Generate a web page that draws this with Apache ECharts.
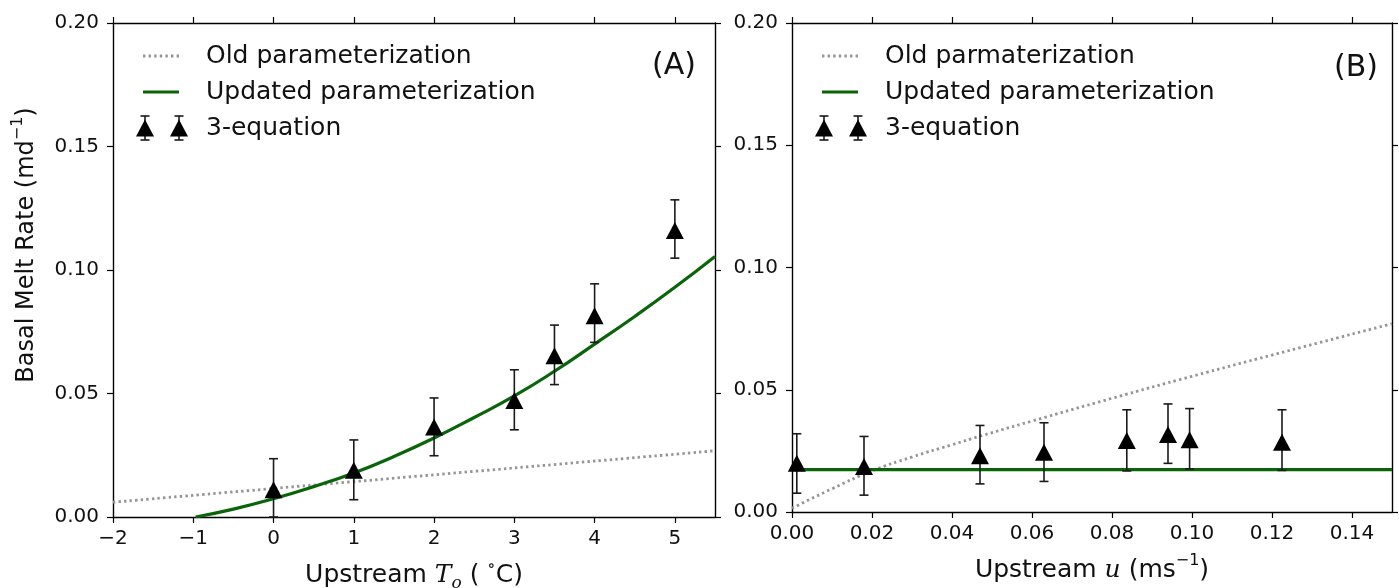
<!DOCTYPE html>
<html>
<head>
<meta charset="utf-8">
<script src="https://cdn.jsdelivr.net/npm/echarts@6/dist/echarts.min.js"></script>
<style>
  html, body { margin: 0; padding: 0; background: #fff; }
  #chart { width: 1399px; height: 588px; }
</style>
</head>
<body>
<div id="chart"></div>
<script>
// tick labels
const tempTicks = [-2, -1, 0, 1, 2, 3, 4, 5];
const speedTicks = [0, 0.02, 0.04, 0.06, 0.08, 0.1, 0.12, 0.14];
const rateTicks = [0, 0.05, 0.1, 0.15, 0.2];

// panel A: melt rate vs upstream temperature
const tempOldX = [-2, 5.5];
const tempOldY = [0.006, 0.0268];
const tempNewX = [-0.97, -0.5, 0, 0.5, 1, 1.5, 2, 2.5, 3, 3.5, 4, 4.5, 5, 5.5];
const tempNewY = [0, 0.0032, 0.0074, 0.0123, 0.0178, 0.0245, 0.032, 0.0403, 0.049, 0.059, 0.07, 0.0812, 0.093, 0.1055];
const tempObsX = [0, 1, 2, 3, 3.5, 4, 5];
const tempObsY = [0.011, 0.0189, 0.0364, 0.0472, 0.0653, 0.0815, 0.116];
const tempObsLo = [0, 0.007, 0.0248, 0.0353, 0.0536, 0.0707, 0.1048];
const tempObsHi = [0.0236, 0.0312, 0.0482, 0.0596, 0.0777, 0.0944, 0.1284];

// panel B: melt rate vs upstream velocity
const speedOldX = [0, 0.01, 0.02, 0.03, 0.04, 0.047, 0.06, 0.08, 0.1, 0.12, 0.15];
const speedOldY = [0.0015, 0.0095, 0.0168, 0.0225, 0.0275, 0.031, 0.0372, 0.0465, 0.0555, 0.0642, 0.077];
const speedNewX = [0, 0.15];
const speedNewY = [0.0173, 0.0173];
const speedObsX = [0.0012, 0.018, 0.047, 0.063, 0.0837, 0.094, 0.0994, 0.1225];
const speedObsY = [0.0199, 0.0186, 0.023, 0.0244, 0.0292, 0.0317, 0.0295, 0.0285];
const speedObsLo = [0.0077, 0.0069, 0.0115, 0.0125, 0.0168, 0.0199, 0.0176, 0.017];
const speedObsHi = [0.032, 0.0309, 0.0354, 0.0365, 0.0418, 0.0442, 0.0423, 0.0418];

const FONT = '"DejaVu Sans", "Liberation Sans", sans-serif';
const SERIF = '"DejaVu Serif", serif';
const INK = '#111';
const GREEN = '#0a640a';
const DOTS = '#959595';
const DOT_DASH = [2.4, 3.2];

const zip = (a, b) => a.map((v, i) => [v, b[i]]);
const zip3 = (a, b, c) => a.map((v, i) => [v, b[i], c[i]]);
const minus = v => String(v).replace('-', '\u2212');

// shared rich styles for math bits in the titles
const mathRich = {
  it: { fontFamily: SERIF, fontStyle: 'italic', fontSize: 25, lineHeight: 34, color: INK },
  sub: { fontFamily: SERIF, fontStyle: 'italic', fontSize: 17, lineHeight: 18, verticalAlign: 'bottom', color: INK },
  sup: { fontFamily: SERIF, fontSize: 17, lineHeight: 18, verticalAlign: 'top', color: INK },
  sups: { fontFamily: FONT, fontSize: 16, lineHeight: 20, verticalAlign: 'top', color: INK }
};

function renderErrorBar(params, api) {
  const x = api.value(0);
  const lo = api.coord([x, api.value(1)]);
  const hi = api.coord([x, api.value(2)]);
  const half = 4.5;
  const style = { stroke: '#1a1a1a', lineWidth: 1.6 };
  return {
    type: 'group',
    children: [
      { type: 'line', shape: { x1: hi[0], y1: hi[1], x2: lo[0], y2: lo[1] }, style: style },
      { type: 'line', shape: { x1: hi[0] - half, y1: hi[1], x2: hi[0] + half, y2: hi[1] }, style: style },
      { type: 'line', shape: { x1: lo[0] - half, y1: lo[1], x2: lo[0] + half, y2: lo[1] }, style: style }
    ]
  };
}

function xAxisPair(grid, min, max, ticks, fmt, name) {
  const line = { onZero: false, lineStyle: { color: '#000', width: 1.4 } };
  const tick = { customValues: ticks, length: 6, lineStyle: { color: '#000', width: 1.2 } };
  return [
    {
      type: 'value', gridIndex: grid, min: min, max: max,
      axisLine: line, axisTick: tick, splitLine: { show: false },
      axisLabel: { customValues: ticks, formatter: fmt, fontFamily: FONT, fontSize: 20, color: INK, margin: 12 },
      name: name, nameLocation: 'middle', nameGap: 41,
      nameTextStyle: { fontFamily: FONT, fontSize: 25, lineHeight: 34, color: INK, rich: mathRich }
    },
    {
      type: 'value', gridIndex: grid, position: 'top', min: min, max: max,
      axisLine: line, axisTick: tick, splitLine: { show: false },
      axisLabel: { show: false }
    }
  ];
}

function yAxisPair(grid) {
  const line = { onZero: false, lineStyle: { color: '#000', width: 1.4 } };
  const tick = { customValues: rateTicks, length: 6, lineStyle: { color: '#000', width: 1.2 } };
  return [
    {
      type: 'value', gridIndex: grid, min: 0, max: 0.2, interval: 0.05,
      axisLine: line, axisTick: tick, splitLine: { show: false },
      axisLabel: { customValues: rateTicks, formatter: v => v.toFixed(2), fontFamily: FONT, fontSize: 20, color: INK, margin: 14 }
    },
    {
      type: 'value', gridIndex: grid, position: 'right', min: 0, max: 0.2, interval: 0.05,
      axisLine: line, axisTick: tick, splitLine: { show: false },
      axisLabel: { show: false }
    }
  ];
}

function panelSeries(xi, yi, oldX, oldY, newX, newY, obsX, obsY, lo, hi, oldName) {
  return [
    {
      name: oldName, type: 'line', xAxisIndex: xi, yAxisIndex: yi,
      data: zip(oldX, oldY), smooth: true, showSymbol: false, z: 2,
      lineStyle: { color: DOTS, width: 2.8, type: DOT_DASH }
    },
    {
      name: 'Updated parameterization', type: 'line', xAxisIndex: xi, yAxisIndex: yi,
      data: zip(newX, newY), smooth: true, showSymbol: false, z: 3,
      lineStyle: { color: GREEN, width: 3.2 }
    },
    {
      name: '3-equation', type: 'custom', xAxisIndex: xi, yAxisIndex: yi,
      data: zip3(obsX, lo, hi), encode: { x: 0, y: [1, 2] },
      renderItem: renderErrorBar, z: 4
    },
    {
      name: '3-equation', type: 'scatter', xAxisIndex: xi, yAxisIndex: yi,
      data: zip(obsX, obsY), symbol: 'triangle', symbolSize: [18, 17], z: 5,
      itemStyle: { color: '#000', opacity: 1 }
    }
  ];
}

// hand drawn legend box, same look as the matplotlib one
function legendGraphic(x0, textX, labels) {
  const rows = [56, 92, 128];
  const els = [];
  els.push({ type: 'line', shape: { x1: x0, y1: rows[0], x2: x0 + 36, y2: rows[0] },
    style: { stroke: DOTS, lineWidth: 2.8, lineDash: DOT_DASH } });
  els.push({ type: 'line', shape: { x1: x0, y1: rows[1], x2: x0 + 36, y2: rows[1] },
    style: { stroke: GREEN, lineWidth: 3.2 } });
  [x0 + 2, x0 + 36].forEach(cx => {
    const cy = rows[2];
    const s = { stroke: '#1a1a1a', lineWidth: 1.6 };
    els.push({ type: 'line', shape: { x1: cx, y1: cy - 12, x2: cx, y2: cy + 12 }, style: s });
    els.push({ type: 'line', shape: { x1: cx - 4.5, y1: cy - 12, x2: cx + 4.5, y2: cy - 12 }, style: s });
    els.push({ type: 'line', shape: { x1: cx - 4.5, y1: cy + 12, x2: cx + 4.5, y2: cy + 12 }, style: s });
    els.push({ type: 'polygon', shape: { points: [[cx, cy - 8.5], [cx - 9, cy + 8.5], [cx + 9, cy + 8.5]] },
      style: { fill: '#000' } });
  });
  labels.forEach((t, i) => {
    els.push({ type: 'text', x: textX, y: rows[i],
      style: { text: t, font: '25px ' + FONT, fill: INK, align: 'left', verticalAlign: 'middle',
        textAlign: 'left', textVerticalAlign: 'middle' } });
  });
  return els;
}

const myChart = echarts.init(document.getElementById('chart'));

const option = {
  animation: false,
  backgroundColor: '#fff',
  grid: [
    { left: 113, top: 23, width: 602, height: 494, outerBoundsMode: 'none', containLabel: false },
    { left: 792, top: 23, width: 600, height: 489, outerBoundsMode: 'none', containLabel: false }
  ],
  xAxis: [].concat(
    xAxisPair(0, -2, 5.5, tempTicks, minus, 'Upstream {it|T}{sub|o} ( {sup|\u2218}C)'),
    xAxisPair(1, 0, 0.15, speedTicks, v => v.toFixed(2), 'Upstream {it|u} (ms{sups|\u22121})')
  ),
  yAxis: [].concat(yAxisPair(0), yAxisPair(1)),
  series: [].concat(
    panelSeries(0, 0, tempOldX, tempOldY, tempNewX, tempNewY, tempObsX, tempObsY, tempObsLo, tempObsHi, 'Old parameterization'),
    panelSeries(2, 2, speedOldX, speedOldY, speedNewX, speedNewY, speedObsX, speedObsY, speedObsLo, speedObsHi, 'Old parmaterization')
  ),
  graphic: [].concat(
    legendGraphic(143, 206, ['Old parameterization', 'Updated parameterization', '3-equation']),
    legendGraphic(822, 885, ['Old parmaterization', 'Updated parameterization', '3-equation']),
    [
      { type: 'text', x: 27, y: 245, rotation: Math.PI / 2,
        style: { text: 'Basal Melt Rate (md{sups|\u22121})', font: '24px ' + FONT, fill: INK, lineHeight: 34,
          rich: mathRich,
          align: 'center', verticalAlign: 'middle', textAlign: 'center', textVerticalAlign: 'middle' } },
      { type: 'text', x: 674, y: 66,
        style: { text: '(A)', font: '30px ' + FONT, fill: INK,
          align: 'center', verticalAlign: 'middle', textAlign: 'center', textVerticalAlign: 'middle' } },
      { type: 'text', x: 1356, y: 68,
        style: { text: '(B)', font: '30px ' + FONT, fill: INK,
          align: 'center', verticalAlign: 'middle', textAlign: 'center', textVerticalAlign: 'middle' } }
    ]
  )
};

myChart.setOption(option);
window.addEventListener('resize', () => myChart.resize());
</script>
</body>
</html>
